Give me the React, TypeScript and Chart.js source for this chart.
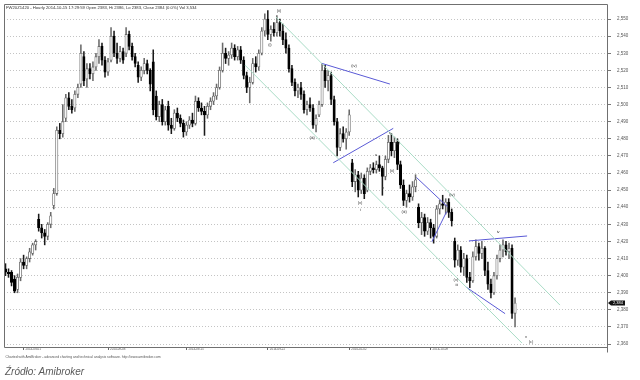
import React, { useEffect, useRef } from 'react';
import { Chart, registerables } from 'chart.js';

Chart.register(...registerables);

// ---- hourly OHLC bars (FW20Z1420) ----
const opens = [
  2404, 2402, 2402, 2398, 2392, 2399, 2408, 2406, 2410, 2413,
  2418, 2433, 2428, 2425, 2423, 2430, 2441, 2448, 2485, 2483,
  2492, 2504, 2499, 2498, 2506, 2512, 2528, 2515, 2521, 2518,
  2522, 2528, 2534, 2526, 2519, 2526, 2540, 2530, 2527, 2531,
  2530, 2541, 2534, 2528, 2523, 2516, 2520, 2524, 2520, 2525,
  2505, 2493, 2500, 2490, 2499, 2488, 2486, 2495, 2492, 2489,
  2484, 2488, 2491, 2489, 2502, 2498, 2496, 2494, 2499, 2502,
  2505, 2510, 2520, 2530, 2527, 2529, 2533, 2528, 2532, 2526,
  2517, 2510, 2513, 2524, 2522, 2530, 2543, 2550, 2541, 2544,
  2542, 2548, 2543, 2538, 2533, 2521, 2513, 2508, 2510, 2506,
  2497, 2500, 2498, 2488, 2494, 2500, 2520, 2514, 2517, 2503,
  2490, 2475, 2483, 2480, 2484, 2466, 2455, 2459, 2450, 2457,
  2450, 2461, 2463, 2462, 2465, 2463, 2458, 2468, 2478, 2473,
  2478, 2465, 2453, 2444, 2448, 2446, 2452, 2440, 2431, 2434,
  2426, 2431, 2428, 2423, 2439, 2442, 2441, 2443, 2437, 2420,
  2409, 2415, 2405, 2410, 2399, 2397, 2411, 2417, 2413, 2416,
  2403, 2395, 2390, 2400, 2410, 2415, 2418, 2414, 2416, 2378,
];
const highs = [
  2407, 2404, 2403, 2400, 2401, 2410, 2412, 2411, 2416, 2419,
  2421, 2436, 2430, 2427, 2431, 2437, 2451, 2487, 2489, 2500,
  2506, 2507, 2503, 2508, 2512, 2535, 2531, 2524, 2524, 2525,
  2530, 2538, 2536, 2528, 2527, 2545, 2543, 2536, 2534, 2533,
  2545, 2543, 2536, 2530, 2525, 2522, 2527, 2526, 2521, 2532,
  2508, 2502, 2503, 2499, 2502, 2492, 2497, 2498, 2494, 2491,
  2490, 2493, 2495, 2505, 2504, 2501, 2499, 2501, 2504, 2507,
  2512, 2522, 2536, 2533, 2531, 2536, 2535, 2534, 2534, 2528,
  2519, 2516, 2527, 2528, 2532, 2545, 2553, 2555, 2546, 2548,
  2552, 2550, 2547, 2542, 2535, 2523, 2515, 2512, 2513, 2508,
  2502, 2504, 2500, 2494, 2502, 2524, 2523, 2520, 2519, 2505,
  2492, 2486, 2487, 2486, 2497, 2468, 2462, 2461, 2460, 2459,
  2463, 2465, 2466, 2467, 2470, 2464, 2470, 2482, 2483, 2481,
  2480, 2467, 2456, 2450, 2453, 2455, 2459, 2442, 2437, 2436,
  2434, 2433, 2430, 2441, 2444, 2447, 2445, 2445, 2439, 2422,
  2418, 2417, 2413, 2412, 2402, 2414, 2421, 2419, 2420, 2417,
  2408, 2398, 2402, 2412, 2418, 2421, 2420, 2419, 2418, 2387,
];
const lows = [
  2400, 2399, 2394, 2390, 2390, 2397, 2404, 2404, 2408, 2412,
  2415, 2426, 2422, 2418, 2421, 2428, 2439, 2447, 2480, 2481,
  2490, 2497, 2495, 2496, 2504, 2510, 2511, 2510, 2515, 2514,
  2520, 2524, 2523, 2516, 2517, 2525, 2528, 2524, 2525, 2524,
  2528, 2532, 2526, 2522, 2513, 2514, 2518, 2518, 2508, 2494,
  2491, 2490, 2488, 2488, 2485, 2483, 2485, 2490, 2487, 2481,
  2482, 2486, 2487, 2488, 2496, 2494, 2482, 2492, 2497, 2500,
  2503, 2509, 2519, 2524, 2523, 2527, 2526, 2526, 2524, 2515,
  2507, 2501, 2512, 2519, 2520, 2529, 2540, 2538, 2537, 2540,
  2540, 2540, 2535, 2530, 2519, 2511, 2505, 2504, 2503, 2495,
  2494, 2496, 2486, 2484, 2493, 2499, 2510, 2508, 2500, 2488,
  2470, 2473, 2478, 2474, 2482, 2452, 2449, 2446, 2448, 2445,
  2449, 2459, 2460, 2460, 2461, 2447, 2456, 2466, 2470, 2469,
  2462, 2451, 2441, 2440, 2443, 2444, 2449, 2428, 2424, 2423,
  2424, 2422, 2419, 2422, 2436, 2439, 2436, 2434, 2429, 2405,
  2406, 2402, 2400, 2396, 2393, 2396, 2409, 2409, 2410, 2400,
  2392, 2387, 2389, 2398, 2408, 2411, 2412, 2410, 2375, 2370,
];
const closes = [
  2402, 2401, 2396, 2391, 2399, 2408, 2406, 2410, 2414, 2418,
  2420, 2428, 2425, 2423, 2430, 2435, 2448, 2485, 2483, 2490,
  2504, 2499, 2497, 2506, 2510, 2530, 2514, 2521, 2518, 2522,
  2528, 2534, 2526, 2519, 2525, 2540, 2530, 2527, 2531, 2526,
  2541, 2534, 2528, 2524, 2516, 2520, 2524, 2520, 2512, 2497,
  2493, 2500, 2490, 2497, 2488, 2486, 2495, 2492, 2489, 2484,
  2488, 2491, 2489, 2502, 2498, 2496, 2494, 2499, 2502, 2505,
  2510, 2520, 2530, 2527, 2529, 2533, 2528, 2532, 2526, 2517,
  2510, 2513, 2524, 2522, 2530, 2543, 2550, 2541, 2544, 2542,
  2548, 2543, 2538, 2533, 2521, 2513, 2508, 2510, 2506, 2497,
  2500, 2498, 2488, 2492, 2500, 2520, 2514, 2517, 2503, 2490,
  2475, 2483, 2480, 2484, 2494, 2455, 2459, 2450, 2457, 2448,
  2461, 2463, 2462, 2465, 2463, 2458, 2468, 2478, 2473, 2478,
  2465, 2453, 2444, 2448, 2446, 2452, 2456, 2431, 2434, 2426,
  2431, 2428, 2423, 2439, 2442, 2441, 2443, 2437, 2432, 2409,
  2415, 2405, 2410, 2399, 2397, 2411, 2417, 2413, 2416, 2403,
  2395, 2390, 2400, 2410, 2415, 2418, 2414, 2416, 2378, 2384,
];

// bar slots on the x axis (bars + empty space on the right)
const slotCount = 200;
const dateTickBars = [6, 34, 60, 87, 114, 141];
const dateTickLabels = ['2014-09-01', '2014-09-08', '2014-09-15', '2014-09-22', '2014-10-02', '2014-10-09'];
const priceTicks = [2360, 2370, 2380, 2390, 2400, 2410, 2420, 2430, 2440, 2450, 2460, 2470, 2480, 2490, 2500, 2510, 2520, 2530, 2540, 2550];
const priceMin = 2358.3;
const priceMax = 2558.8;

// trend channel and wave lines: [bar index, price] end points
const upperChannel = [[89.7, 2551.2], [183.9, 2382.8]];
const lowerChannel = [[79.4, 2523.1], [171.3, 2360.6]];
const waveLines = [
  [[104.9, 2524.1], [127.5, 2512.0]],
  [[108.7, 2466.0], [128.6, 2486.1]],
  [[136.3, 2457.4], [146.6, 2440.3]],
  [[141.4, 2419.8], [146.3, 2437.4]],
  [[153.7, 2420.3], [173.0, 2423.2]],
  [[152.7, 2393.4], [165.7, 2377.8]],
];
// Elliott wave labels: [text, bar index, price]
const waveLabels: [string, number, number][] = [
  ['(ii)', 90.7, 2554.7],
  ['(i)', 87.7, 2534.8],
  ['(iii)', 101.7, 2480.4],
  ['(iv)', 115.6, 2522.5],
  ['(v)', 117.6, 2442.5],
  ['i', 117.6, 2438.4],
  ['a', 122.9, 2470.5],
  ['b', 125.2, 2451.2],
  ['c', 127.5, 2483.4],
  ['(i)', 130.2, 2477.5],
  ['(ii)', 128.2, 2461.2],
  ['(iii)', 132.2, 2437.2],
  ['(iv)', 148.1, 2447.1],
  ['(v)', 149.4, 2397.5],
  ['iii', 149.7, 2394.5],
  ['iv', 163.4, 2425.5],
  ['v', 172.6, 2364.1],
  ['(c)', 174.3, 2361.2],
];

const titleText = 'FW20Z1420 - Hourly 2014-10-15 17:29:59 Open 2383, Hi 2386, Lo 2383, Close 2384 (0.0%) Vol 3,534';
const footText = 'Charted with AmiBroker - advanced charting and technical analysis software. http://www.amibroker.com';

const FONT = '"Liberation Sans", Arial, sans-serif';
const fmt = (v: number) => v.toLocaleString('en-US');

const decorPlugin = {
  id: 'decor',
  afterDatasetsDraw(chart: any) {
    const { ctx, scales } = chart;
    const xs = scales.x;
    const ys = scales.y;
    ctx.save();
    ctx.fillStyle = '#333';
    ctx.font = `4px ${FONT}`;
    ctx.textAlign = 'center';
    ctx.textBaseline = 'middle';
    waveLabels.forEach(([t, i, p]) => {
      ctx.fillText(t, xs.getPixelForValue(i), ys.getPixelForValue(p));
    });
    ctx.restore();
  },
  afterDraw(chart: any) {
    const { ctx, chartArea: a, scales } = chart;
    const ys = scales.y;
    ctx.save();
    // frame
    ctx.strokeStyle = '#707070';
    ctx.lineWidth = 1;
    const l = Math.round(a.left) + 0.5;
    const t = Math.round(a.top) + 0.5;
    const r = Math.round(a.right) + 0.5;
    const b = Math.round(a.bottom) + 0.5;
    ctx.beginPath();
    ctx.moveTo(l, b);
    ctx.lineTo(l, t);
    ctx.lineTo(r, t);
    ctx.lineTo(r, b + 5);
    ctx.moveTo(l, b);
    ctx.lineTo(r, b);
    ctx.stroke();
    // header
    ctx.fillStyle = '#333';
    ctx.font = `4.2px ${FONT}`;
    ctx.textAlign = 'left';
    ctx.textBaseline = 'alphabetic';
    ctx.fillText(titleText, a.left + 2, a.top + 4.5);
    // footnote
    ctx.fillStyle = '#555';
    ctx.font = `3.4px ${FONT}`;
    ctx.fillText(footText, a.left + 1.5, 358);
    // last price tag
    const last = closes[closes.length - 1];
    const py = ys.getPixelForValue(last);
    const x0 = a.right + 1;
    ctx.fillStyle = '#111';
    ctx.beginPath();
    ctx.moveTo(x0, py);
    ctx.lineTo(x0 + 3, py - 2.5);
    ctx.lineTo(x0 + 17, py - 2.5);
    ctx.lineTo(x0 + 17, py + 2.5);
    ctx.lineTo(x0 + 3, py + 2.5);
    ctx.closePath();
    ctx.fill();
    ctx.fillStyle = '#fff';
    ctx.font = `4px ${FONT}`;
    ctx.textBaseline = 'middle';
    ctx.fillText(fmt(last), x0 + 5, py + 0.3);
    ctx.restore();
  },
};

export default function App() {
  const ref = useRef<HTMLCanvasElement>(null);

  useEffect(() => {
    if (!ref.current) return;
    const wick = highs.map((h, i) => ({ x: i, y: [lows[i], h] }));
    const body = opens.map((o, i) => ({ x: i, y: [o, closes[i]] }));
    const bodyColors = opens.map((o, i) => (closes[i] >= o ? '#ffffff' : '#000000'));
    const bodyBorders = opens.map((o, i) => (closes[i] >= o ? '#6a6a6a' : '#000000'));
    const wickColors = opens.map((o, i) => (closes[i] >= o ? '#6a6a6a' : '#1a1a1a'));
    const lineDs = (pts: number[][], color: string) => ({
      type: 'line' as const,
      data: pts.map(([x, y]) => ({ x, y })),
      borderColor: color,
      borderWidth: 1,
      pointRadius: 0,
      fill: false,
      order: 0,
    });

    const chart = new Chart(ref.current, {
      type: 'bar',
      data: {
        datasets: [
          lineDs(upperChannel, '#a9dcc6'),
          lineDs(lowerChannel, '#a9dcc6'),
          ...waveLines.map((w) => lineDs(w, '#5a5ad6')),
          {
            type: 'bar',
            data: body as any,
            backgroundColor: bodyColors,
            borderColor: bodyBorders,
            borderWidth: 0.8,
            borderSkipped: false,
            barThickness: 2.4,
            grouped: false,
            order: 1,
          } as any,
          {
            type: 'bar',
            data: wick as any,
            backgroundColor: wickColors,
            borderWidth: 0,
            barThickness: 0.9,
            grouped: false,
            order: 2,
          } as any,
        ],
      },
      options: {
        animation: false,
        responsive: false,
        maintainAspectRatio: false,
        devicePixelRatio: 1,
        events: [],
        layout: { padding: { left: 4, top: 4, right: 0, bottom: 0 } },
        plugins: { legend: { display: false }, tooltip: { enabled: false }, title: { display: false } },
        scales: {
          x: {
            type: 'linear',
            min: -0.5,
            max: slotCount - 0.5,
            offset: false,
            afterBuildTicks: (s: any) => {
              s.ticks = dateTickBars.map((v) => ({ value: v }));
            },
            ticks: {
              callback: (v: any) => dateTickLabels[dateTickBars.indexOf(Number(v))] ?? '',
              align: 'start',
              labelOffset: 2,
              padding: -3,
              autoSkip: false,
              maxRotation: 0,
              minRotation: 0,
              color: '#555',
              font: { family: FONT, size: 3 },
            },
            grid: { display: true, offset: false, drawOnChartArea: false, drawTicks: true, tickLength: 3, tickColor: '#666' },
            border: { display: false },
            afterFit: (s: any) => {
              s.height = 33;
              s.paddingLeft = 0;
              s.paddingRight = 0;
            },
          } as any,
          y: {
            type: 'linear',
            position: 'right',
            min: priceMin,
            max: priceMax,
            afterBuildTicks: (s: any) => {
              s.ticks = priceTicks.map((v) => ({ value: v }));
            },
            ticks: {
              callback: (v: any) => fmt(Number(v)),
              padding: 6,
              color: '#555',
              font: { family: FONT, size: 4.5 },
            },
            grid: { color: '#c4c4c4', drawTicks: true, tickLength: 4, tickColor: '#777', tickBorderDash: [] },
            border: { display: false, dash: [1, 2] },
            afterFit: (s: any) => {
              s.width = 33;
              s.paddingTop = 0;
              s.paddingBottom = 0;
            },
          } as any,
        },
      },
      plugins: [decorPlugin],
    });
    return () => chart.destroy();
  }, []);

  return (
    <div style={{ position: 'fixed', left: 0, top: 0, width: 640, height: 380, background: '#fff' }}>
      <canvas ref={ref} width={640} height={380} style={{ display: 'block', width: 640, height: 380 }} />
      <div
        style={{
          position: 'absolute',
          left: 5,
          top: 366,
          fontFamily: FONT,
          fontStyle: 'italic',
          fontSize: 10,
          lineHeight: '12px',
          color: '#5a5a5a',
          whiteSpace: 'nowrap',
        }}
      >
        Źródło: Amibroker
      </div>
    </div>
  );
}
